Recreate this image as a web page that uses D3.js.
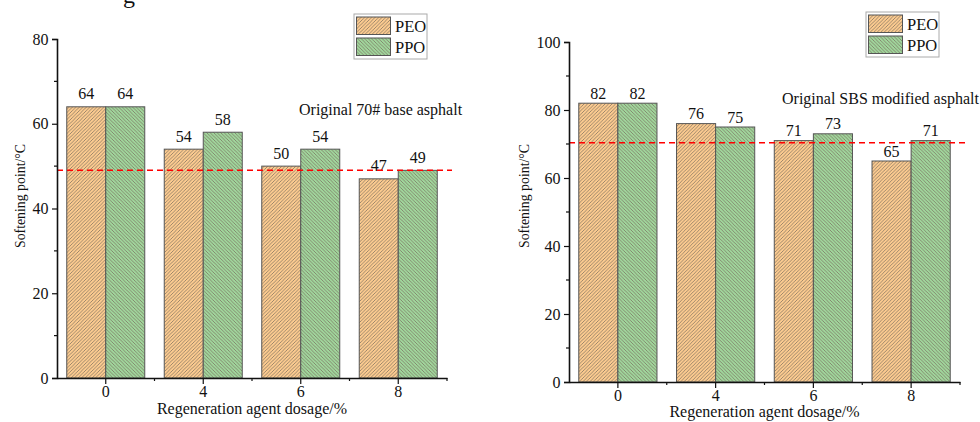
<!DOCTYPE html>
<html>
<head>
<meta charset="utf-8">
<script src="https://cdn.jsdelivr.net/npm/d3@7"></script>
<style>
  body { margin: 0; background: #fff; }
  svg { display: block; }
  text { font-family: "Liberation Serif", "Times New Roman", serif; fill: #111; }
</style>
</head>
<body>
<script>
// categories and series
var dosage = ["0", "4", "6", "8"]
var series = ["PEO", "PPO"]

var peoBase = [64, 54, 50, 47]
var ppoBase = [64, 58, 54, 49]
var baseRef = 49          // red dashed line, original 70# base asphalt

var peoSBS = [82, 76, 71, 65]
var ppoSBS = [82, 75, 73, 71]
var sbsRef = 70.4         // red dashed line, original SBS modified asphalt

var yTicksBase = [0, 20, 40, 60, 80]
var yTicksSBS = [0, 20, 40, 60, 80, 100]

var svg = d3.select("body")
    .append("svg")
    .attr("width", 980)
    .attr("height", 422);

// hatch patterns for the two series
var defs = svg.append("defs")
function hatch(id, fill, dir) {
    var s = 3.5
    var p = defs.append("pattern")
        .attr("id", id)
        .attr("patternUnits", "userSpaceOnUse")
        .attr("width", s)
        .attr("height", s)
    p.append("rect").attr("width", s).attr("height", s).attr("fill", fill)
    var d = dir > 0
        ? "M-1,1 l2,-2 M0," + s + " l" + s + "," + (-s) + " M" + (s - 1) + "," + (s + 1) + " l2,-2"
        : "M-1," + (s - 1) + " l2,2 M0,0 l" + s + "," + s + " M" + (s - 1) + ",-1 l2,2"
    p.append("path").attr("d", d)
        .attr("stroke", "#76695a")
        .attr("stroke-width", 0.7)
}
hatch("hPEO", "#fccb90", 1)
hatch("hPPO", "#a0d69c", -1)

// cut-off caption at the very top
svg.append("text")
    .attr("x", 123).attr("y", 3)
    .attr("font-size", 24)
    .text("g")

function drawPanel(opt) {
    var g = svg.append("g")

    var x = d3.scaleBand()
        .domain(dosage)
        .range([opt.x0, opt.x1])
        .paddingInner(0)
    var xs = d3.scaleBand()
        .domain(series)
        .range([0, x.bandwidth()])
        .paddingOuter(0.25)
        .paddingInner(0)
    var y = d3.scaleLinear()
        .domain([0, opt.yMax])
        .range([opt.yBottom, opt.yTop])

    var rows = dosage.map((d, i) => ({ cat: d, vals: [opt.peo[i], opt.ppo[i]] }))

    var groups = g.selectAll("g.cat")
        .data(rows)
        .enter()
        .append("g")
        .attr("class", "cat")
        .attr("transform", d => "translate(" + x(d.cat) + ",0)")

    groups.selectAll("rect")
        .data(d => d.vals.map((v, j) => ({ s: series[j], v: v })))
        .enter()
        .append("rect")
        .attr("x", d => xs(d.s))
        .attr("y", d => y(d.v))
        .attr("width", xs.bandwidth())
        .attr("height", d => y(0) - y(d.v))
        .attr("fill", d => d.s == "PEO" ? "url(#hPEO)" : "url(#hPPO)")
        .attr("stroke", "#555")
        .attr("stroke-width", 1)

    groups.selectAll("text.val")
        .data(d => d.vals.map((v, j) => ({ s: series[j], v: v })))
        .enter()
        .append("text")
        .attr("class", "val")
        .attr("x", d => xs(d.s) + xs.bandwidth() / 2)
        .attr("y", d => y(d.v) - opt.valGap)
        .attr("text-anchor", "middle")
        .attr("font-size", 16)
        .text(d => d.v)

    // red dashed reference line
    g.append("line")
        .attr("x1", opt.x0)
        .attr("x2", opt.lineEnd)
        .attr("y1", y(opt.ref))
        .attr("y2", y(opt.ref))
        .attr("stroke", "#ff0000")
        .attr("stroke-width", 1.5)
        .attr("stroke-dasharray", "6,4")

    // y axis
    var yAxis = d3.axisLeft(y).tickValues(opt.yTicks).tickSize(5).tickPadding(3.5)
    var ya = g.append("g").attr("transform", "translate(" + opt.x0 + ",0)").call(yAxis)
    var minorY = d3.range(10, opt.yMax, 20)
    ya.selectAll(".minor").data(minorY).enter().append("line")
        .attr("class", "minor")
        .attr("x1", 0).attr("x2", -3)
        .attr("y1", d => y(d)).attr("y2", d => y(d))
        .attr("stroke", "#111").attr("stroke-width", 1.2)

    // x axis
    var xAxis = d3.axisBottom(x).tickSize(6).tickPadding(2).tickSizeOuter(0)
    var xa = g.append("g").attr("transform", "translate(0," + opt.yBottom + ")").call(xAxis)
    xa.selectAll(".minor").data(dosage).enter().append("line")
        .attr("class", "minor")
        .attr("x1", d => x(d) + x.bandwidth()).attr("x2", d => x(d) + x.bandwidth())
        .attr("y1", 0).attr("y2", 3)
        .attr("stroke", "#111").attr("stroke-width", 1.2)

    g.selectAll(".domain").attr("stroke", "#111").attr("stroke-width", 1.6)
    g.selectAll(".tick line").attr("stroke", "#111").attr("stroke-width", 1.2)
    g.selectAll(".tick text")
        .attr("font-family", "Liberation Serif, serif")
        .attr("font-size", 16)
        .attr("fill", "#111")

    // axis titles
    g.append("text")
        .attr("x", (opt.x0 + opt.x1) / 2)
        .attr("y", opt.yBottom + opt.titleGap)
        .attr("text-anchor", "middle")
        .attr("font-size", 16)
        .text("Regeneration agent dosage/%")
    g.append("text")
        .attr("transform", "translate(" + opt.yLabelX + ",196) rotate(-90)")
        .attr("text-anchor", "middle")
        .attr("font-size", 13.8)
        .text("Softening point/\u00b0C")

    // annotation
    g.append("text")
        .attr("x", opt.noteX)
        .attr("y", opt.noteY)
        .attr("font-size", 16)
        .text(opt.note)

    // legend
    var lg = g.append("g").attr("transform", "translate(" + opt.legX + "," + opt.legY + ")")
    lg.append("rect")
        .attr("width", 73).attr("height", 45)
        .attr("fill", "#fff").attr("stroke", "#aaa").attr("stroke-width", 1)
    series.forEach((s, i) => {
        lg.append("rect")
            .attr("x", 2.5).attr("y", 3 + i * 21)
            .attr("width", 34).attr("height", 17.5)
            .attr("fill", s == "PEO" ? "url(#hPEO)" : "url(#hPPO)")
            .attr("stroke", "#555").attr("stroke-width", 1)
        lg.append("text")
            .attr("x", 41).attr("y", 18 + i * 21)
            .attr("font-size", 16.5)
            .text(s)
    })
}

drawPanel({
    x0: 57, x1: 447, yTop: 39, yBottom: 378, yMax: 80, yTicks: yTicksBase,
    peo: peoBase, ppo: ppoBase, ref: baseRef, lineEnd: 452, valGap: 7.5, titleGap: 36,
    yLabelX: 25, note: "Original 70# base asphalt", noteX: 299, noteY: 115,
    legX: 354, legY: 14
})

drawPanel({
    x0: 569, x1: 960, yTop: 42, yBottom: 382, yMax: 100, yTicks: yTicksSBS,
    peo: peoSBS, ppo: ppoSBS, ref: sbsRef, lineEnd: 968, valGap: 4.5, titleGap: 35,
    yLabelX: 529, note: "Original SBS modified asphalt", noteX: 782, noteY: 104,
    legX: 866, legY: 12
})
</script>
</body>
</html>
